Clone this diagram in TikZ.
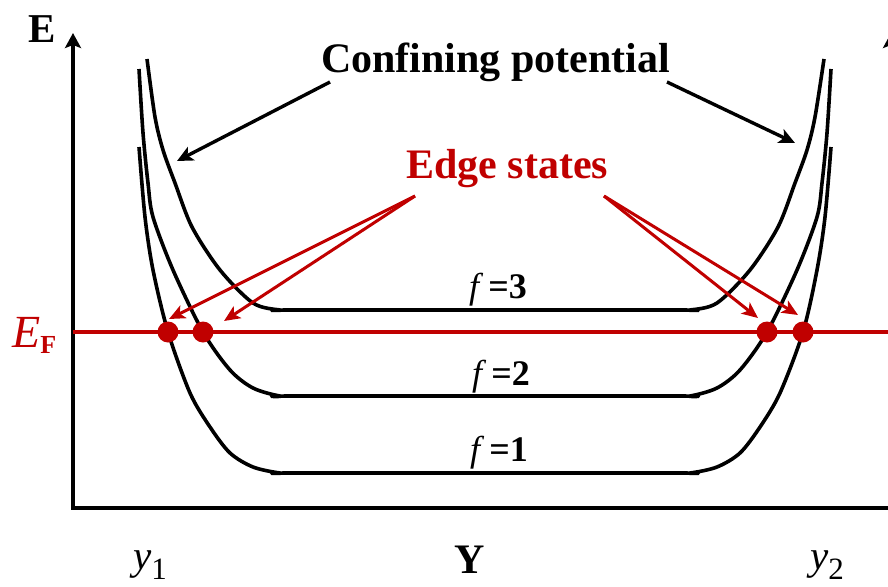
\documentclass[tikz,border=0pt]{standalone}
\usepackage{fontspec}
\setmainfont{Liberation Serif}
\usepackage{xcolor}
\usetikzlibrary{arrows.meta}
\definecolor{edgered}{RGB}{192,0,0}

\begin{document}
\begin{tikzpicture}[x=1pt,y=-1pt,
    axis/.style={line width=3.4pt,-{Stealth[length=15pt,width=16pt,inset=3pt]}},
    band/.style={line width=3.6pt,line join=round},
    pointer/.style={line width=3.4pt,-{Stealth[length=16pt,width=15pt,inset=4pt]}},
    edgearrow/.style={edgered,line width=3pt,-{Stealth[length=16pt,width=14pt,inset=4pt]}},
    state/.style={circle,fill=edgered,inner sep=0pt,minimum size=21pt},
    big/.style={inner sep=0pt,font=\fontsize{42}{50}\selectfont\bfseries},
    level/.style={inner sep=0pt,anchor=base,font=\fontsize{36}{42}\selectfont}]
\useasboundingbox (0,0) rectangle (888,586);

% axes
\draw[axis] (73,508) -- (73,33);
\draw[axis] (891,508) -- (891,33);
\draw[line width=3.8pt] (71.3,508) -- (891,508);
\node[big,anchor=base west,font=\fontsize{41}{48}\selectfont\bfseries] (elabel) at (28,42) {E};
\node[big,anchor=base] (ylabel) at (470,573) {Y};
\node[inner sep=0pt,anchor=base west] (y1) at (133,569)
    {\fontsize{41}{48}\selectfont\itshape y\raisebox{-10pt}{\fontsize{31}{36}\selectfont\upshape 1}};
\node[inner sep=0pt,anchor=base west] (y2) at (810,569)
    {\fontsize{41}{48}\selectfont\itshape y\raisebox{-10pt}{\fontsize{31}{36}\selectfont\upshape 2}};

% Fermi level
\draw[edgered,line width=4pt] (73,332) -- (888,332);
\node[inner sep=0pt,anchor=base west,text=edgered] (efermi) at (12,347)
    {\fontsize{46}{52}\selectfont\itshape E\raisebox{-6pt}{\fontsize{26}{30}\selectfont\bfseries\upshape F}};

% subbands
\draw[band] plot[smooth,tension=0.5] coordinates {(147,59) (155,117) (163,150) (175,183)
    (192,227) (220,270) (253,303) (280,310) (300,310) (670,310) (690,310) (717,303)
    (750,270) (778,227) (795,183) (807,150) (815,117) (824,59)};
\draw[band] plot[smooth,tension=0.5] coordinates {(139,69) (143,133) (148,183) (153,217)
    (173,270) (203,332) (230,370) (253,388) (280,396) (300,396) (670,396) (690,396)
    (717,388) (740,370) (767,332) (797,270) (817,217) (822,183) (827,133) (831,69)};
\draw[band] plot[smooth,tension=0.5] coordinates {(139,147) (145,217) (153,270) (168,332)
    (190,393) (210,427) (230,453) (253,467) (280,473) (300,473) (670,473) (690,473)
    (717,467) (740,453) (760,427) (780,393) (803,332) (817,270) (825,217) (831,147)};
\node[level] (f3) at (498,298) {\itshape f\hspace{9pt}\bfseries\upshape =3};
\node[level] (f2) at (501,385) {\itshape f\hspace{9pt}\bfseries\upshape =2};
\node[level] (f1) at (499,461) {\itshape f\hspace{9pt}\bfseries\upshape =1};

% edge states
\node[state] (s1) at (168,332) {};
\node[state] (s2) at (203,332) {};
\node[state] (s3) at (767,332) {};
\node[state] (s4) at (803,332) {};

% labels and pointers
\node[big,anchor=base west] (conf) at (321,72) {Confining potential};
\node[big,anchor=base west,text=edgered] (edge) at (406,178) {Edge states};
\coordinate (cpl) at (330,82);
\coordinate (cpr) at (667,82);
\coordinate (wall1) at (177,161);
\coordinate (wall2) at (795,143);
\draw[pointer] (cpl) -- (wall1);
\draw[pointer] (cpr) -- (wall2);
\coordinate (esl) at (415,196);
\coordinate (esr) at (604,196);
\coordinate (t1) at (169,319);
\coordinate (t2) at (224,321);
\coordinate (t3) at (758,318);
\coordinate (t4) at (798,315);
\draw[edgearrow] (esl) -- (t1);
\draw[edgearrow] (esl) -- (t2);
\draw[edgearrow] (esr) -- (t3);
\draw[edgearrow] (esr) -- (t4);
\end{tikzpicture}
\end{document}
